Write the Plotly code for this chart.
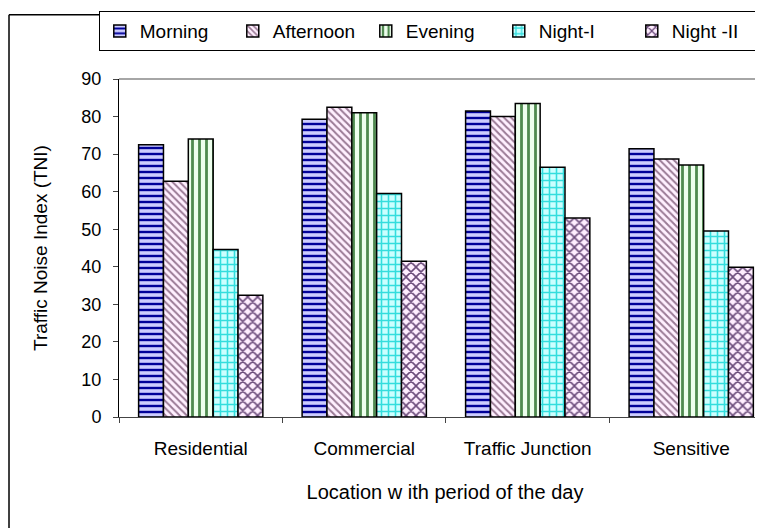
"""
Traffic Noise Index by location and period of the day
Grouped bar chart with hatch patterns, Plotly
"""

import plotly.graph_objects as go

locations = ["Residential", "Commercial", "Traffic Junction", "Sensitive"]
periods = ["Morning", "Afternoon", "Evening", "Night-I", "Night -II"]

morning = [72.5, 79.3, 81.5, 71.4]
afternoon = [62.8, 82.5, 80.0, 68.7]
evening = [74.0, 81.0, 83.5, 67.1]
night_1 = [44.6, 59.5, 66.5, 49.5]
night_2 = [32.4, 41.5, 53.0, 39.9]

series = [morning, afternoon, evening, night_1, night_2]

# (pattern shape, foreground, background, size)
styles = [
    ("-", "#000099", "#ccccff", 6),
    ("\\", "#9a7a95", "#fff0ff", 5),
    ("|", "#4f8a4f", "#eeffee", 7),
    ("+", "#33dddd", "#ccffff", 7),
    ("x", "#6a4a7a", "#ffeeff", 7),
]

fig = go.Figure()

for name, values, (shape, fg, bg, size) in zip(periods, series, styles):
    fig.add_trace(go.Bar(
        x=locations,
        y=values,
        name=name,
        marker=dict(
            color=bg,
            line=dict(color="black", width=1.5),
            pattern=dict(shape=shape, fgcolor=fg, bgcolor=bg,
                         size=size, solidity=0.4, fillmode="replace"),
        ),
    ))

# page body adds an 8px offset, margins compensate for it
fig.update_layout(
    width=763,
    height=528,
    barmode="group",
    bargap=0.24,
    bargroupgap=0,
    plot_bgcolor="white",
    paper_bgcolor="white",
    font=dict(family="Arial, Liberation Sans, sans-serif", size=17, color="black"),
    margin=dict(l=111, r=0, t=71, b=119, autoexpand=False),
    legend=dict(
        orientation="h",
        x=-0.031, y=1.201,
        xanchor="left", yanchor="top",
        bordercolor="black", borderwidth=1,
        bgcolor="white",
        font=dict(size=19),
        entrywidth=88,
        itemwidth=30,
        tracegroupgap=0,
    ),
    xaxis=dict(
        range=[-0.5, 3.488],
        showline=True, linecolor="#444444", linewidth=1,
        ticks="outside", tickson="boundaries", ticklen=5, tickcolor="#444444",
        tickfont=dict(size=19),
        ticklabelstandoff=14,
        title=dict(text="Location w ith period of the day", standoff=27,
                   font=dict(size=20)),
        showgrid=False,
        automargin=False,
    ),
    yaxis=dict(
        range=[0, 90],
        dtick=10,
        showline=True, linecolor="black", linewidth=1,
        ticks="outside", ticklen=5,
        tickfont=dict(size=18),
        ticklabelstandoff=8,
        showgrid=False,
        zeroline=False,
        title=dict(text="Traffic Noise Index (TNI)", standoff=28,
                   font=dict(size=19)),
        automargin=False,
    ),
    shapes=[
        # plot-area top border
        dict(type="line", xref="paper", yref="paper", x0=0, x1=1, y0=1, y1=1,
             line=dict(color="#888888", width=1.5)),
        # outer chart border: left and top edges
        dict(type="line", xref="paper", yref="paper",
             x0=-0.1687, x1=-0.1687, y0=-0.5, y1=1.19,
             line=dict(color="black", width=1.5)),
        dict(type="line", xref="paper", yref="paper",
             x0=-0.1687, x1=1.2, y0=1.19, y1=1.19,
             line=dict(color="black", width=1.5)),
    ],
)

fig.write_html("out.html")
